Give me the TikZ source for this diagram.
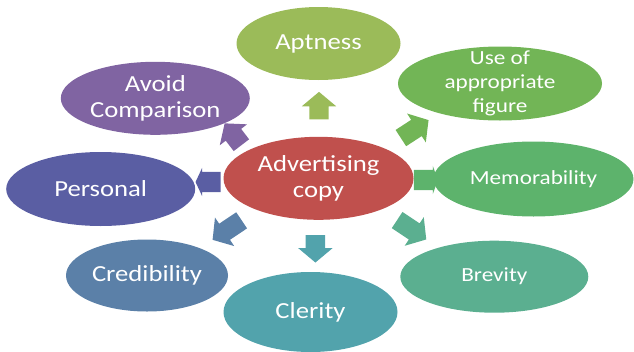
\documentclass[tikz,border=0pt]{standalone}
\usepackage{fontspec}
\setmainfont{Carlito}[FakeStretch=1.16]
\usetikzlibrary{shapes.geometric,shapes.arrows}
\definecolor{cApt}{HTML}{9BBB59}
\definecolor{cUse}{HTML}{72B556}
\definecolor{cMem}{HTML}{5DB36C}
\definecolor{cBrev}{HTML}{5BAF90}
\definecolor{cCler}{HTML}{52A3AC}
\definecolor{cCred}{HTML}{5B80A8}
\definecolor{cPers}{HTML}{5A5EA3}
\definecolor{cAvoid}{HTML}{8064A2}
\definecolor{cCen}{HTML}{C0504D}
\tikzset{
  oval/.style={ellipse, inner sep=0pt, draw=none},
  bigtxt/.style={text=white, align=center, font=\fontsize{23}{25.5}\selectfont},
  smalltxt/.style={text=white, align=center, font=\fontsize{20}{24.3}\selectfont},
  blockarrow/.style={single arrow, draw=none, inner sep=9.5pt,
     single arrow head extend=7.5pt, single arrow head indent=0pt,
     single arrow tip angle=100},
}
\begin{document}
\begin{tikzpicture}[x=1pt,y=-1pt]
\useasboundingbox (0,0) rectangle (634,351);
\clip (0,0) rectangle (634,351);
% ellipses
\node[oval, fill=cApt, minimum width=164pt, minimum height=73pt,
  label={[bigtxt]center:Aptness}] (apt) at (318.5,43.5) {};
\node[oval, fill=cUse, minimum width=204pt, minimum height=74pt,
  label={[smalltxt]center:Use of\\appropriate\\figure}] (use) at (500,83.5) {};
\node[oval, fill=cAvoid, minimum width=189pt, minimum height=73pt,
  label={[bigtxt]center:Avoid\\Comparison}] (avoid) at (155.3,98.3) {};
\node[oval, fill=cPers, minimum width=189pt, minimum height=74pt,
  label={[bigtxt]center:Personal}] (pers) at (100.7,189) {};
\node[oval, fill=cCen, minimum width=190pt, minimum height=83pt,
  label={[bigtxt]center:Advertising\\copy}] (cen) at (318.5,178.3) {};
\node[oval, fill=cMem, minimum width=200pt, minimum height=75pt,
  label={[smalltxt]center:Memorability}] (mem) at (533.5,179) {};
\node[oval, fill=cCred, minimum width=162pt, minimum height=72pt,
  label={[bigtxt]center:Credibility}] (cred) at (147,275.5) {};
\node[oval, fill=cBrev, minimum width=188pt, minimum height=72pt,
  label={[smalltxt]center:Brevity}] (brev) at (494.3,276.7) {};
\node[oval, fill=cCler, minimum width=174pt, minimum height=80pt,
  label={[bigtxt]center:Clerity}] (cler) at (310.5,312) {};
% arrows
\node[blockarrow, fill=cApt, minimum height=26pt, rotate=90] (aApt) at (319,109.7) {};
\node[blockarrow, fill=cUse, minimum height=33pt, rotate=33] (aUse) at (411.3,131.3) {};
\node[blockarrow, fill=cMem, minimum height=9pt, inner sep=10pt,
  single arrow head extend=4pt, single arrow tip angle=140] (aMem) at (424,180) {};
\node[blockarrow, fill=cBrev, minimum height=35pt, rotate=-33.6] (aBrev) at (408.3,227.5) {};
\node[blockarrow, fill=cCler, minimum height=25pt, rotate=-90] (aCler) at (315.4,244.7) {};
\node[blockarrow, fill=cCred, minimum height=35pt, rotate=213.9] (aCred) at (230.5,227.8) {};
\node[blockarrow, fill=cPers, minimum height=14pt, inner sep=10pt,
  single arrow head extend=4pt, single arrow tip angle=130, rotate=180] (aPers) at (210.5,182) {};
\node[blockarrow, fill=cAvoid, minimum height=24pt, rotate=127.5] (aAvoid) at (235.5,137.5) {};
\end{tikzpicture}
\end{document}
